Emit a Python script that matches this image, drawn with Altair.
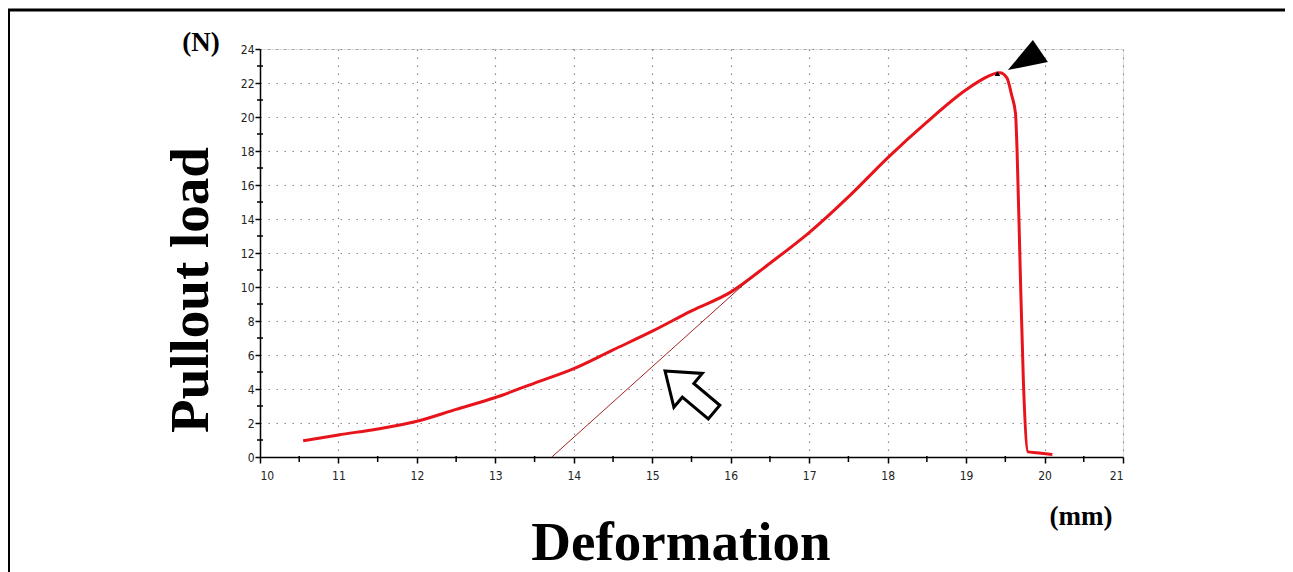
import altair as alt
import pandas as pd

# ---- data ----
deformation_mm = [10.55, 11.0, 11.5, 12.0, 12.5, 13.0, 13.5, 14.0, 14.5, 15.0,
                  15.5, 16.0, 16.5, 17.0, 17.5, 18.0, 18.5, 19.0, 19.2, 19.43,
                  19.52, 19.58, 19.63, 19.65, 19.69, 19.73, 19.79, 19.9, 20.1]
load_N = [0.95, 1.3, 1.65, 2.1, 2.8, 3.5, 4.35, 5.2, 6.3, 7.4,
          8.6, 9.7, 11.4, 13.2, 15.3, 17.6, 19.7, 21.6, 22.2, 22.6,
          22.3, 21.3, 20.2, 18.0, 11.0, 4.5, 0.3, 0.25, 0.15]

tangent_mm = [13.72, 16.25]
tangent_N = [0.0, 10.5]

peak_mm = [19.4]
peak_N = [22.55]

x_major = list(range(10, 22))
x_minor = [10.5 + i for i in range(11)]
y_major = list(range(0, 25, 2))
y_minor = list(range(1, 24, 2))

W, H = 863, 408
LABEL_FONT = "DejaVu Sans Condensed, Liberation Sans Narrow, Arial Narrow, Liberation Sans, sans-serif"
SERIF = "Liberation Serif, Times New Roman, serif"

curve_df = pd.DataFrame({"x": deformation_mm, "y": load_N, "o": list(range(len(load_N)))})
tan_df = pd.DataFrame({"x": tangent_mm, "y": tangent_N})
peak_df = pd.DataFrame({"x": peak_mm, "y": peak_N})
xminor_df = pd.DataFrame({"x": x_minor})
yminor_df = pd.DataFrame({"y": y_minor})
one = pd.DataFrame({"a": [0]})

xscale = alt.Scale(domain=[10, 21], nice=False, zero=False)
yscale = alt.Scale(domain=[0, 24], nice=False)

common = dict(
    title=None, labelOverlap=False, grid=True, tickCount=60,
    gridColor="#8a8a8a", gridDash=[1.5, 6.5], gridWidth=1.2,
    domainColor="black", domainWidth=1.5, tickColor="black", tickWidth=1.5,
    labelFont=LABEL_FONT, labelFontSize=12, labelColor="#222",
)
xaxis = alt.Axis(values=x_major, format="d", tickSize=6, labelPadding=7, **common)
yaxis = alt.Axis(values=y_major, format="d", tickSize=5, labelPadding=1, **common)

curve = alt.Chart(curve_df).mark_line(color="#e8141b", strokeWidth=3, interpolate="monotone").encode(
    x=alt.X("x:Q", scale=xscale, axis=xaxis),
    y=alt.Y("y:Q", scale=yscale, axis=yaxis),
    order="o:Q",
)

tangent = alt.Chart(tan_df).mark_line(color="#a52323", strokeWidth=1).encode(
    x=alt.X("x:Q", scale=xscale), y=alt.Y("y:Q", scale=yscale)
)

# minor ticks
xminor = alt.Chart(xminor_df).mark_rule(color="black", strokeWidth=1.5).encode(
    x=alt.X("x:Q", scale=xscale), y=alt.value(H - 1), y2=alt.value(H + 5)
)
yminor = alt.Chart(yminor_df).mark_rule(color="black", strokeWidth=1.5).encode(
    y=alt.Y("y:Q", scale=yscale), x=alt.value(-3), x2=alt.value(3)
)

peak = alt.Chart(peak_df).mark_point(shape="triangle-up", filled=True, color="black", size=30, opacity=1).encode(
    x=alt.X("x:Q", scale=xscale), y=alt.Y("y:Q", scale=yscale)
)

# hollow arrow pointing to the tangent line
hollow_df = pd.DataFrame({"x": [15.475], "y": [3.85]})
hollow = alt.Chart(hollow_df).mark_point(
    shape="M0,-1 L0.69,-0.06 L0.28,-0.06 L0.28,1 L-0.28,1 L-0.28,-0.06 L-0.69,-0.06 Z",
    size=4096, angle=310, filled=True, fill="white", stroke="black", strokeWidth=3, opacity=1,
).encode(x=alt.X("x:Q", scale=xscale), y=alt.Y("y:Q", scale=yscale))

# black arrowhead pointing at the peak
head_df = pd.DataFrame({"x": [19.81], "y": [23.51]})
head = alt.Chart(head_df).mark_point(
    shape="M-0.87,0.51 L0.13,-0.69 L0.73,0.19 Z",
    size=2500, filled=True, color="black", opacity=1,
).encode(x=alt.X("x:Q", scale=xscale), y=alt.Y("y:Q", scale=yscale))

def label(text, x, y, size, angle=0, baseline="middle"):
    return alt.Chart(one).mark_text(
        text=text, font=SERIF, fontWeight="bold", fontSize=size, color="black",
        angle=angle, baseline=baseline, align="center",
    ).encode(x=alt.value(x), y=alt.value(y))

t_n = label("(N)", -59, -6, 27)
t_load = label("Pullout load", -69, 241, 55, angle=270)
t_def = label("Deformation", 421, 511, 55, baseline="alphabetic")
t_mm = label("(mm)", 821, 468, 27)

# outer frame (left and top)
frame_left = alt.Chart(one).mark_rule(color="black", strokeWidth=3).encode(
    x=alt.value(-251.5), y=alt.value(-40), y2=alt.value(600)
)
frame_top = alt.Chart(one).mark_rule(color="black", strokeWidth=3).encode(
    x=alt.value(-253), x2=alt.value(1040), y=alt.value(-39)
)

chart = alt.layer(
    curve, tangent, xminor, yminor, peak, hollow, head, t_n, t_load, t_def, t_mm, frame_left, frame_top
).properties(
    width=W, height=H,
    autosize=alt.AutoSizeParams(type="none"),
    padding={"left": 252, "top": 41, "right": 162, "bottom": 115},
).configure_view(stroke="black", strokeWidth=1.5).configure(background="white")

chart.save("out.html", embed_options={"renderer": "svg", "actions": False})
